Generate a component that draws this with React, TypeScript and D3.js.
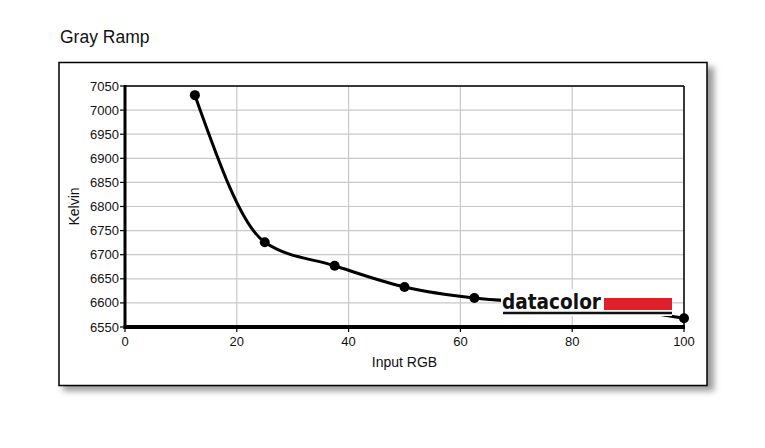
import React from "react";
import * as d3 from "d3";

const inputRGB = [12.5, 25, 37.5, 50, 62.5, 75, 87.5, 100];
const kelvin = [7031, 6726, 6677, 6633, 6610, 6600, 6590, 6568];
const xTicks = [0, 20, 40, 60, 80, 100];
const yTicks = [6550, 6600, 6650, 6700, 6750, 6800, 6850, 6900, 6950, 7000, 7050];
const title = "Gray Ramp";
const xLabel = "Input RGB";
const yLabel = "Kelvin";

export default function App() {
  const W = 765, H = 448;
  const left = 125, right = 684, top = 86, bottom = 327;
  const x = d3.scaleLinear().domain([0, 100]).range([left, right]);
  const y = d3.scaleLinear().domain([6550, 7050]).range([bottom, top]);
  const pts = inputRGB.map((v, i) => [v, kelvin[i]] as [number, number]);
  const line = d3.line<[number, number]>().x(d => x(d[0])).y(d => y(d[1])).curve(d3.curveMonotoneX);
  const font = "'Liberation Sans', Arial, sans-serif";

  return (
    <svg width={W} height={H} style={{ position: "absolute", left: 0, top: 0, background: "#fff" }} fontFamily={font}>
      <defs>
        <filter id="sh" x="-10%" y="-10%" width="130%" height="130%">
          <feGaussianBlur stdDeviation="3" />
        </filter>
      </defs>
      <rect width={W} height={H} fill="#fff" />
      <text x={60} y={43} fontSize={17.5} fill="#111">{title}</text>
      {/* frame shadow */}
      <rect x={63} y={67} width={651} height={324} fill="#9a9a9a" filter="url(#sh)" />
      <rect x={59} y={62.5} width={648} height={323} fill="#fff" stroke="#000" strokeWidth={1.5} />
      {/* grid */}
      {yTicks.map(t => (
        <line key={"gy" + t} x1={left} x2={right} y1={y(t)} y2={y(t)} stroke="#c8c8c8" strokeWidth={1.2} />
      ))}
      {xTicks.map(t => (
        <line key={"gx" + t} x1={x(t)} x2={x(t)} y1={top} y2={bottom} stroke="#c8c8c8" strokeWidth={1.2} />
      ))}
      {/* top & right border */}
      <line x1={left} x2={right} y1={top} y2={top} stroke="#000" strokeWidth={1.5} />
      <line x1={right} x2={right} y1={top} y2={bottom} stroke="#000" strokeWidth={1.5} />
      {/* data */}
      <path d={line(pts) || ""} fill="none" stroke="#000" strokeWidth={3} />
      {pts.map((p, i) => (
        <circle key={i} cx={x(p[0])} cy={y(p[1])} r={5} fill="#000" />
      ))}
      {/* logo */}
      <g>
        <rect x={501} y={289} width={171} height={27} fill="#fff" />
        <text x={502} y={309} fontSize={22} fontWeight="bold" fill="#111" textLength={99} lengthAdjust="spacingAndGlyphs" fontFamily="'DejaVu Sans', sans-serif">datacolor</text>
        <rect x={604} y={298} width={68} height={12} fill="#e0202a" />
        <line x1={503} x2={672} y1={313} y2={313} stroke="#111" strokeWidth={2.5} />
      </g>
      {/* axes */}
      <line x1={left} x2={left} y1={top - 1} y2={bottom + 2} stroke="#000" strokeWidth={3} />
      <line x1={left - 1.5} x2={right + 1} y1={bottom} y2={bottom} stroke="#000" strokeWidth={4} />
      {yTicks.map(t => (
        <g key={"ty" + t}>
          <line x1={left - 5} x2={left} y1={y(t)} y2={y(t)} stroke="#000" strokeWidth={1.2} />
          <text x={left - 6} y={y(t)} dy="0.35em" textAnchor="end" fontSize={13} fill="#111">{t}</text>
        </g>
      ))}
      {xTicks.map(t => (
        <g key={"tx" + t}>
          <line x1={x(t)} x2={x(t)} y1={bottom} y2={bottom + 5} stroke="#000" strokeWidth={1.2} />
          <text x={x(t)} y={bottom + 19} textAnchor="middle" fontSize={13} fill="#111">{t}</text>
        </g>
      ))}
      <text x={(left + right) / 2} y={367} textAnchor="middle" fontSize={14} fill="#111">{xLabel}</text>
      <text transform={`translate(79,${(top + bottom) / 2}) rotate(-90)`} textAnchor="middle" fontSize={14} fill="#111">{yLabel}</text>
    </svg>
  );
}
